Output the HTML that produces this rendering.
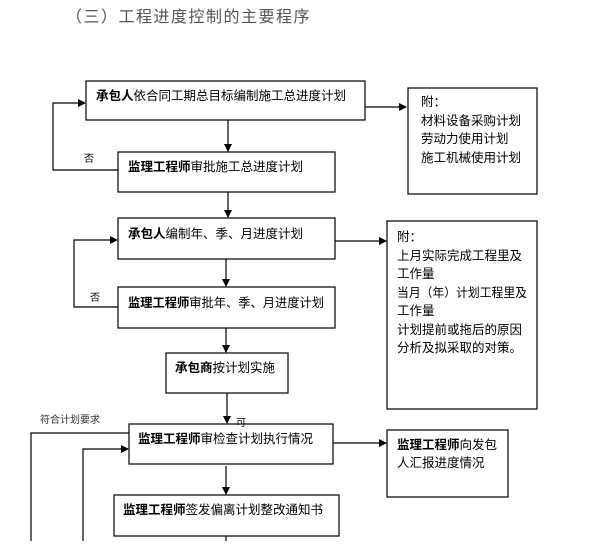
<!DOCTYPE html>
<html><head><meta charset="utf-8"><style>
html,body{margin:0;padding:0;background:#fff;}
svg text{font-family:"Liberation Sans","Noto Sans CJK SC",sans-serif;font-size:12.5px;fill:#000;}
.b{font-weight:bold;}
</style></head><body>
<svg width="603" height="541" viewBox="0 0 603 541" xmlns="http://www.w3.org/2000/svg">
<defs><marker id="a" markerWidth="8" markerHeight="8" refX="7" refY="4" orient="auto" markerUnits="userSpaceOnUse"><path d="M0,0 L8,4 L0,8 z" fill="#000"/></marker></defs>
<g fill="none" stroke="#000" stroke-width="1.2">
<rect x="86" y="81" width="279" height="39"/>
<rect x="408" y="88" width="129" height="106"/>
<rect x="118" y="152" width="217" height="40"/>
<rect x="118" y="218" width="217" height="41"/>
<rect x="387" y="221" width="150" height="188"/>
<rect x="118" y="287" width="217" height="41"/>
<rect x="166" y="353" width="122" height="40"/>
<rect x="129" y="424" width="204" height="40"/>
<rect x="387" y="430" width="121" height="67"/>
<rect x="114" y="495" width="225" height="41"/>
<line x1="365" y1="107" x2="406" y2="107" marker-end="url(#a)"/>
<line x1="228" y1="120" x2="228" y2="151" marker-end="url(#a)"/>
<polyline points="118,170 53,170 53,103 85,103" marker-end="url(#a)"/>
<line x1="228" y1="192" x2="228" y2="217" marker-end="url(#a)"/>
<line x1="335" y1="241" x2="386" y2="241" marker-end="url(#a)"/>
<line x1="226" y1="259" x2="226" y2="286" marker-end="url(#a)"/>
<polyline points="118,307 74,307 74,240 117,240" marker-end="url(#a)"/>
<line x1="226" y1="328" x2="226" y2="352" marker-end="url(#a)"/>
<line x1="227" y1="393" x2="227" y2="423" marker-end="url(#a)"/>
<polyline points="129,433 31,433 31,541"/>
<polyline points="83,541 83,449 128,449" marker-end="url(#a)"/>
<line x1="333" y1="443" x2="386" y2="443" marker-end="url(#a)"/>
<line x1="226" y1="466" x2="226" y2="494" marker-end="url(#a)"/>
<line x1="226" y1="536" x2="226" y2="541"/>
</g>
<text x="66" y="22" style="font-size:16px;fill:#555;letter-spacing:1.5px">（三）工程进度控制的主要程序</text>
<text x="96" y="100"><tspan class="b">承包人</tspan>依合同工期总目标编制施工总进度计划</text>
<text x="421" y="106">附：</text>
<text x="421" y="125">材料设备采购计划</text>
<text x="421" y="143">劳动力使用计划</text>
<text x="421" y="162">施工机械使用计划</text>
<text x="84" y="162" style="font-size:10px">否</text>
<text x="128" y="171"><tspan class="b">监理工程师</tspan>审批施工总进度计划</text>
<text x="128" y="238"><tspan class="b">承包人</tspan>编制年、季、月进度计划</text>
<text x="397" y="241">附：</text>
<text x="397" y="260">上月实际完成工程里及</text>
<text x="397" y="278">工作量</text>
<text x="397" y="297" textLength="130" lengthAdjust="spacingAndGlyphs">当月（年）计划工程里及</text>
<text x="397" y="315">工作量</text>
<text x="397" y="334">计划提前或拖后的原因</text>
<text x="397" y="352">分析及拟采取的对策。</text>
<text x="90" y="301" style="font-size:10px">否</text>
<text x="128" y="307" textLength="196" lengthAdjust="spacingAndGlyphs"><tspan class="b">监理工程师</tspan>审批年、季、月进度计划</text>
<text x="175" y="372"><tspan class="b">承包商</tspan>按计划实施</text>
<text x="40" y="423" style="font-size:10px;fill:#333">符合计划要求</text>
<text x="236" y="426" style="font-size:10px">可</text>
<text x="138" y="443"><tspan class="b">监理工程师</tspan>审检查计划执行情况</text>
<text x="397" y="449"><tspan class="b">监理工程师</tspan>向发包</text>
<text x="397" y="467">人汇报进度情况</text>
<text x="123" y="514"><tspan class="b">监理工程师</tspan>签发偏离计划整改通知书</text>
</svg>
</body></html>
